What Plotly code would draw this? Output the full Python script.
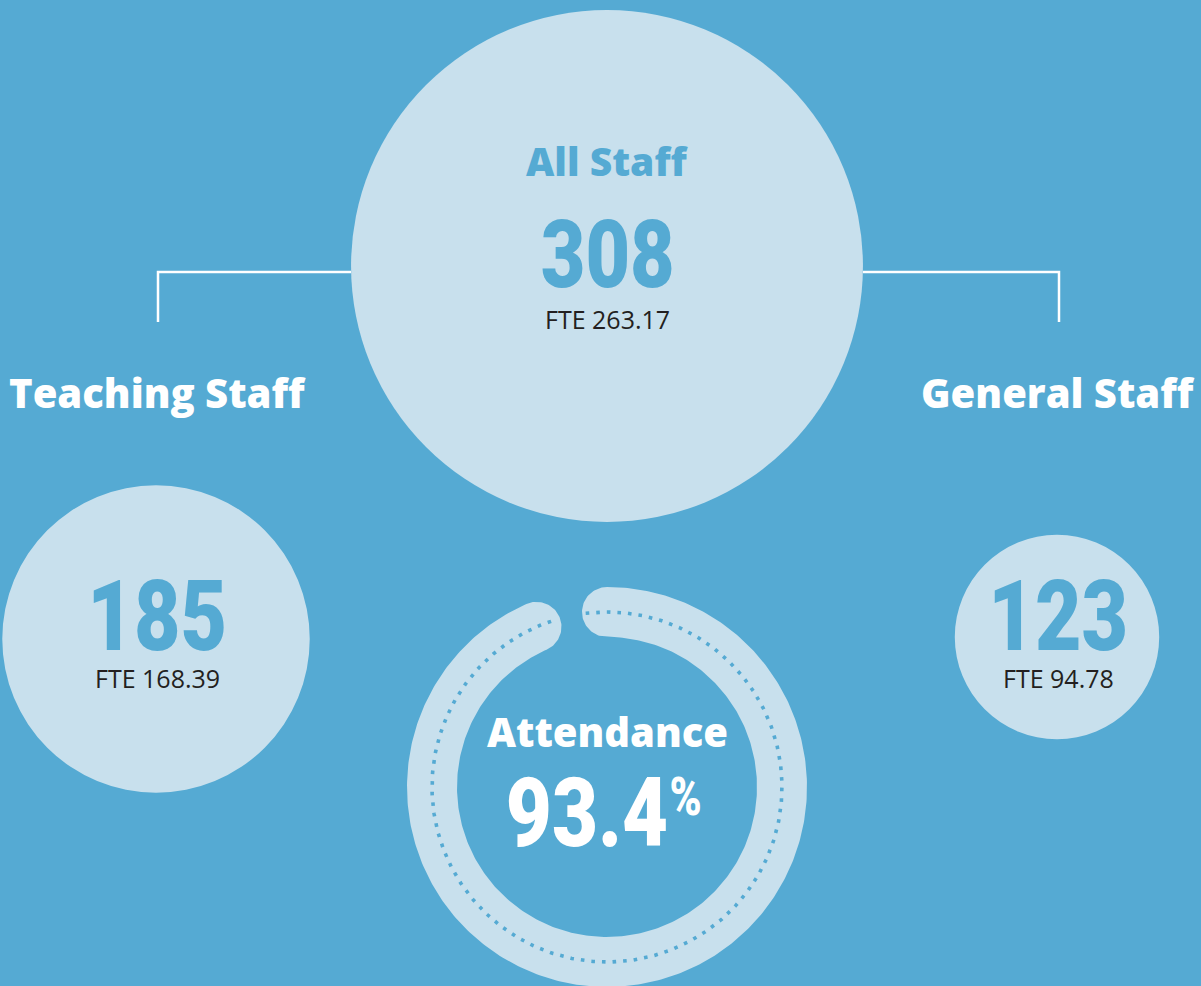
"""Staff numbers infographic: bubbles sized by headcount plus an attendance ring."""

import numpy as np
import plotly.graph_objects as go

BG = "#55aad3"
PALE = "#c8e0ed"
INK = "#231f20"
WHITE = "#ffffff"

HEAD_FONT = "'Open Sans', Lato, sans-serif"
NUM_FONT = "Roboto, sans-serif"      # squeezed horizontally below to mimic a condensed face
BODY_FONT = "'Open Sans', Lato, sans-serif"
NUM_SQUEEZE = 0.82

# data
groups = ["All Staff", "Teaching Staff", "General Staff"]
headcount = [308, 185, 123]
fte = [263.17, 168.39, 94.78]
attendance_pct = 93.4

# page layout (pixel space)
W, H = 1201, 986
centres = [(607, 266), (156, 639), (1057, 637)]
PX_PER_HEAD = 0.831          # bubble radius per staff member
RING_C = (607, 787)
RING_R = 175
RING_T = 50

fig = go.Figure()

# bubbles, radius scaled from headcount
for (cx, cy), n in zip(centres, headcount):
    r = n * PX_PER_HEAD
    fig.add_shape(type="circle", xref="x", yref="y", x0=cx - r, x1=cx + r, y0=cy - r, y1=cy + r,
                  fillcolor=PALE, line_width=0, layer="below")

# connector brackets from the big bubble down to each sub group label
big_cx, big_cy = centres[0]
big_r = headcount[0] * PX_PER_HEAD
bracket_y = big_cy + 6
for (cx, _), side in zip(centres[1:], (-1, 1)):
    edge = big_cx + side * big_r
    fig.add_trace(go.Scatter(x=[edge, cx + 2, cx + 2], y=[bracket_y, bracket_y, bracket_y + 50], mode="lines",
                             line=dict(color=WHITE, width=2.5), hoverinfo="skip", showlegend=False))

# attendance ring: arc of attendance_pct of a full turn, clockwise from 12 o'clock, round ends
sweep = 2 * np.pi * attendance_pct / 100
rcx, rcy = RING_C
ro, ri, hc = RING_R + RING_T / 2, RING_R - RING_T / 2, RING_T / 2


def pt(r, th):
    return rcx + r * np.sin(th), rcy - r * np.cos(th)


th = np.linspace(0, sweep, 400)
phi = np.linspace(0, np.pi, 60)
xo, yo = pt(ro, th)
xi, yi = pt(ri, th[::-1])
# end cap
ecx, ecy = pt(RING_R, sweep)
u = np.array([np.sin(sweep), -np.cos(sweep)])
v = np.array([np.cos(sweep), np.sin(sweep)])
xe = ecx + hc * (np.cos(phi) * u[0] + np.sin(phi) * v[0])
ye = ecy + hc * (np.cos(phi) * u[1] + np.sin(phi) * v[1])
# start cap
scx, scy = pt(RING_R, 0)
u0, v0 = np.array([0, -1]), np.array([1, 0])
xs = scx + hc * (-np.cos(phi) * u0[0] - np.sin(phi) * v0[0])
ys = scy + hc * (-np.cos(phi) * u0[1] - np.sin(phi) * v0[1])
fig.add_trace(go.Scatter(x=np.concatenate([xo, xe, xi, xs]), y=np.concatenate([yo, ye, yi, ys]),
                         mode="lines", fill="toself", fillcolor=PALE, line=dict(width=0),
                         hoverinfo="skip", showlegend=False))

# dotted track inside the ring, running a little into both caps
ext = np.radians(7)
td = np.linspace(-ext, sweep + ext, 500)
xd, yd = pt(RING_R, td)
fig.add_trace(go.Scatter(x=xd, y=yd, mode="lines", line=dict(color=BG, width=3.6, dash="3.6px,7px"),
                         hoverinfo="skip", showlegend=False))


# text
def label(x, y, text, size, color, family, weight="normal"):
    fig.add_annotation(x=x, y=y, xref="x", yref="y", text=text, showarrow=False,
                       xanchor="center", yanchor="middle",
                       font=dict(size=size, color=color, family=family, weight=weight))


label(centres[0][0], 160, groups[0], 39, BG, HEAD_FONT, 800)
label(centres[1][0] + 1, 392, groups[1], 40, WHITE, HEAD_FONT, 800)
label(centres[2][0] + 1, 392, groups[2], 40, WHITE, HEAD_FONT, 800)

label(centres[0][0], 255, str(headcount[0]), 94, BG, NUM_FONT, 900)
label(centres[1][0] + 1, 616, str(headcount[1]), 98, BG, NUM_FONT, 900)
label(centres[2][0] + 1, 616, str(headcount[2]), 98, BG, NUM_FONT, 900)

label(centres[0][0], 319, f"FTE {fte[0]:.2f}", 25, INK, BODY_FONT)
label(centres[1][0] + 1, 678, f"FTE {fte[1]:.2f}", 25, INK, BODY_FONT)
label(centres[2][0] + 1, 678, f"FTE {fte[2]:.2f}", 25, INK, BODY_FONT)

label(rcx, 731, "Attendance", 40, WHITE, HEAD_FONT, 800)
label(rcx - 20, 813, f"{attendance_pct:.1f}", 97, WHITE, NUM_FONT, 900)
label(rcx + 78, 797, "%", 53, WHITE, NUM_FONT, 900)

fig.update_layout(
    width=W, height=H,
    margin=dict(l=0, r=0, t=0, b=0),
    paper_bgcolor=BG, plot_bgcolor=BG,
    xaxis=dict(range=[0, W], visible=False, fixedrange=True),
    yaxis=dict(range=[H, 0], visible=False, fixedrange=True),
    showlegend=False,
)

# no page margin; narrow the number glyphs around their own centre
post = (
    "document.body.style.margin='0';"
    "var st=document.createElement('style');"
    "st.textContent=\"text.annotation-text[style*='Roboto']{transform-box:fill-box;"
    f"transform-origin:center;transform:scaleX({NUM_SQUEEZE});}}\";"
    "document.head.appendChild(st);"
)
fig.write_html("out.html", post_script=post, config={"displayModeBar": False})
